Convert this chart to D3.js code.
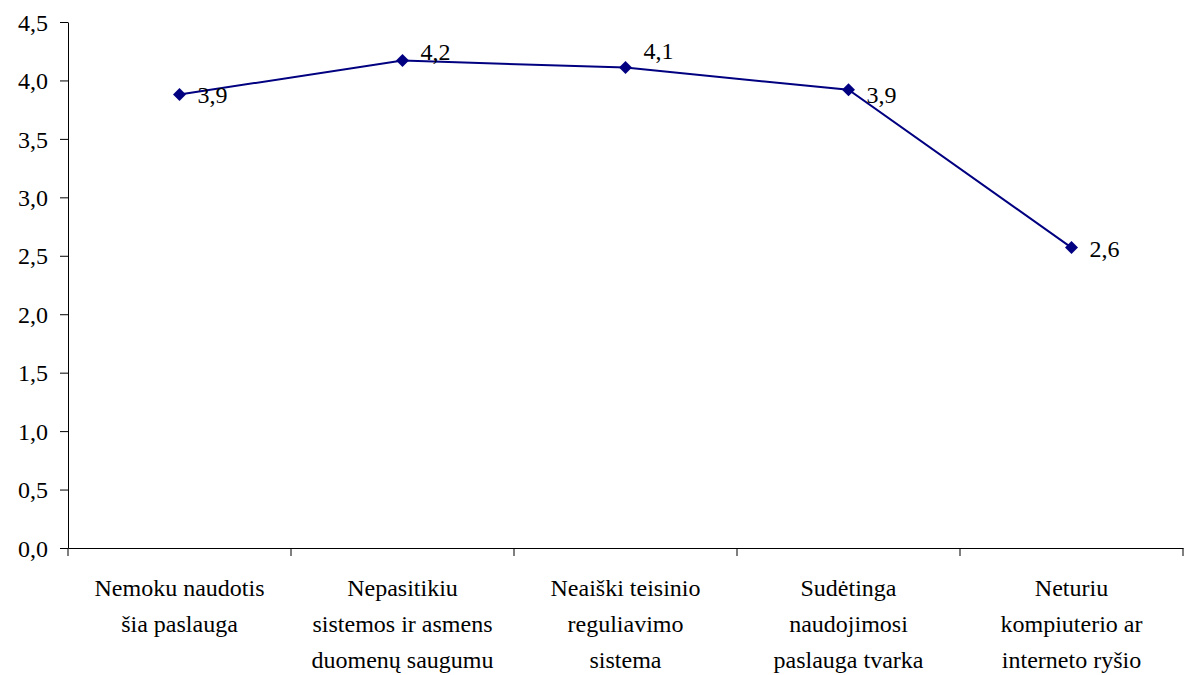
<!DOCTYPE html>
<html>
<head>
<meta charset="utf-8">
<script src="https://cdn.jsdelivr.net/npm/d3@7"></script>
<style>
	body { margin: 0; background: #fff; }
	svg text, svg tspan { font-family: "Liberation Serif", serif !important; }
</style>
</head>
<body>
<svg id="chart" width="1186" height="675"></svg>
<script>
// categories, one array of lines per label
const categories = [
	["Nemoku naudotis", "šia paslauga"],
	["Nepasitikiu", "sistemos ir asmens", "duomenų saugumu"],
	["Neaiški teisinio", "reguliavimo", "sistema"],
	["Sudėtinga", "naudojimosi", "paslauga tvarka"],
	["Neturiu", "kompiuterio ar", "interneto ryšio"]
]
const values = [3.88, 4.17, 4.11, 3.92, 2.57]
const valueLabels = ["3,9", "4,2", "4,1", "3,9", "2,6"]
const yTicks = [0, 0.5, 1, 1.5, 2, 2.5, 3, 3.5, 4, 4.5]

// Excel moved a couple of the labels up off the line
const labelNudge = [0, -9, -17, 5, 1]

const FONT = "'Liberation Serif', serif"

const margin = { left: 68, right: 3, top: 22, bottom: 127 }
const width = 1186, height = 675
const svg = d3.select("#chart")

const x = d3.scaleBand()
	.domain(d3.range(categories.length))
	.range([margin.left, width - margin.right])

const y = d3.scaleLinear()
	.domain([0, 4.5])
	.range([height - margin.bottom, margin.top])

const fmt = d => d.toFixed(1).replace(".", ",")

function serif(sel) {
	sel.style("font-family", FONT, "important").style("font-size", "24px").style("fill", "#000")
}

// y axis
const yAxis = svg.append("g")
	.attr("transform", `translate(${margin.left},0)`)
	.call(d3.axisLeft(y).tickValues(yTicks).tickFormat(fmt).tickSize(8).tickPadding(12).tickSizeOuter(0))
yAxis.attr("font-family", null)
yAxis.selectAll("text").attr("dy", "0.34em").call(serif)

// x axis, ticks sit on the band edges
const xAxis = svg.append("g")
	.attr("transform", `translate(0,${y(0)})`)
	.call(d3.axisBottom(x).tickValues([]).tickSizeOuter(0))
xAxis.selectAll(".edge")
	.data(d3.range(categories.length + 1))
	.join("line")
		.attr("x1", i => i < categories.length ? x(i) : x.range()[1])
		.attr("x2", i => i < categories.length ? x(i) : x.range()[1])
		.attr("y1", 0).attr("y2", 8)
		.attr("stroke", "#000")

svg.selectAll(".domain, .tick line").attr("stroke", "#000")

// category labels
svg.append("g")
	.selectAll("text")
	.data(categories)
	.join("text")
		.attr("text-anchor", "middle")
		.call(serif)
		.attr("transform", (d, i) => `translate(${x(i) + x.bandwidth() / 2},${y(0) + 48})`)
		.selectAll("tspan")
		.data(d => d)
		.join("tspan")
			.attr("x", 0)
			.attr("y", (d, i) => i * 36)
			.text(d => d)

const cx = i => x(i) + x.bandwidth() / 2

// line
svg.append("path")
	.datum(values)
	.attr("fill", "none")
	.attr("stroke", "#000080")
	.attr("stroke-width", 2)
	.attr("d", d3.line().x((d, i) => cx(i)).y(d => y(d)))

// diamonds
svg.append("g").selectAll("path")
	.data(values)
	.join("path")
		.attr("d", d3.symbol(d3.symbolSquare, 84))
		.attr("transform", (d, i) => `translate(${cx(i)},${y(d)}) rotate(45)`)
		.attr("fill", "#000080")

// value labels
svg.append("g")
	.selectAll("text")
	.data(values)
	.join("text")
		.attr("x", (d, i) => cx(i) + 18)
		.attr("y", (d, i) => y(d) + labelNudge[i])
		.attr("dy", "0.35em")
		.call(serif)
		.text((d, i) => valueLabels[i])
</script>
</body>
</html>
